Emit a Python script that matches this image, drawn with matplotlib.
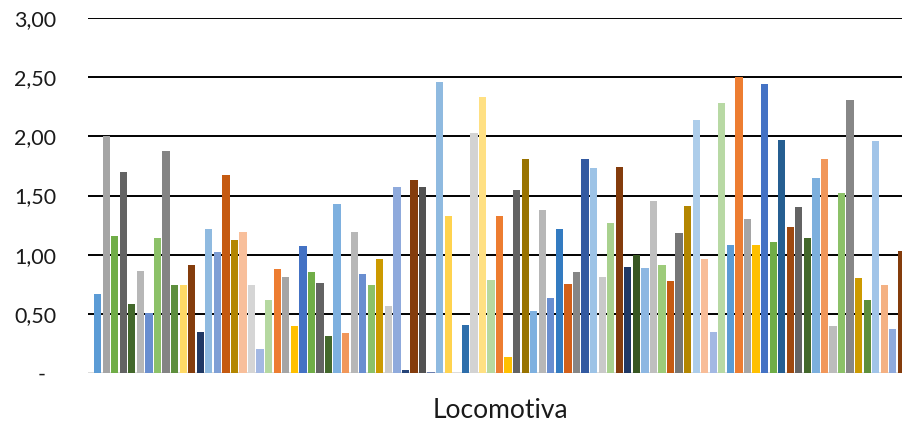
import matplotlib
matplotlib.use("Agg")
import matplotlib.pyplot as plt
import matplotlib.transforms as mtransforms

category = "Locomotiva"

values = [
    0.67, 2.00, 1.16, 1.70, 0.585, 0.865, 0.51, 1.14, 1.88, 0.745,
    0.74, 0.91, 0.35, 1.22, 1.02, 1.67, 1.12, 1.19, 0.74, 0.20,
    0.62, 0.88, 0.81, 0.40, 1.07, 0.85, 0.76, 0.31, 1.43, 0.34,
    1.195, 0.84, 0.745, 0.965, 0.57, 1.575, 0.025, 1.63, 1.57, 0.01,
    2.46, 1.33, 0.0, 0.405, 2.025, 2.33, 0.79, 1.33, 0.135, 1.55,
    1.81, 0.52, 1.38, 0.635, 1.22, 0.755, 0.85, 1.805, 1.73, 0.81,
    1.27, 1.74, 0.90, 1.00, 0.89, 1.45, 0.915, 0.78, 1.18, 1.415,
    2.135, 0.96, 0.35, 2.28, 1.085, 2.50, 1.305, 1.085, 2.44, 1.11,
    1.965, 1.23, 1.405, 1.14, 1.645, 1.81, 0.40, 1.525, 2.31, 0.805,
    0.62, 1.96, 0.745, 0.37, 1.035,
]

colors = [
    "#5B9BD5", "#A5A5A5", "#70AD47", "#636363", "#43682B", "#B7B7B7", "#698ED0", "#8CC168", "#848484", "#5E8F3D",
    "#FFD966", "#843C0C", "#203864", "#8FBAE0", "#7F9FD5", "#C55A11", "#B38600", "#F8BF9B", "#D5D5D5", "#A3B8E3",
    "#B5D8A0", "#ED7D31", "#A5A5A5", "#FFC000", "#4472C4", "#70AD47", "#636363", "#43682B", "#7EB0DF", "#F1975A",
    "#B7B7B7", "#698ED0", "#8CC168", "#CC9A00", "#C9C9C9", "#8FAADC", "#264478", "#843C0C", "#525252", "#6C7FAE",
    "#8FBAE0", "#FFD34F", "#FFFFFF", "#2E6EAB", "#D3D3D3", "#FFE083", "#B8D8A0", "#ED7D31", "#FFC000", "#636363",
    "#997300", "#7EB0DF", "#B7B7B7", "#698ED0", "#337BC1", "#D2601A", "#868686", "#335AA1", "#9DC3E6", "#C9C9C9",
    "#A9D18E", "#843C0C", "#203864", "#385723", "#8DB7E2", "#BFBFBF", "#9DCB7A", "#C55A11", "#767676", "#B38600",
    "#ADCDEA", "#F8BD98", "#A3B8E3", "#B8D9A4", "#5B9BD5", "#ED7D31", "#A5A5A5", "#FFC000", "#4472C4", "#70AD47",
    "#255E91", "#9E480E", "#636363", "#43682B", "#7CAFDD", "#F1975A", "#BCBCBC", "#8CC168", "#878787", "#CC9A00",
    "#5E8F3D", "#A1C4E8", "#F4B183", "#8FAADC", "#843C0C",
]

y_ticks = [0.0, 0.5, 1.0, 1.5, 2.0, 2.5, 3.0]
y_tick_labels = ["-", "0,50", "1,00", "1,50", "2,00", "2,50", "3,00"]

W, H = 902, 428
fig = plt.figure(figsize=(W / 100, H / 100), dpi=100)
ax = fig.add_axes([88 / W, (H - 373) / H, 1 - 88 / W, 355 / H])

x = list(range(len(values)))
ax.bar(x, values, width=0.85, color=colors, zorder=3)

ax.set_xlim(-1.13, 94.07)
ax.set_ylim(0, 3.0)

for yv in y_ticks[1:]:
    ax.axhline(yv, color="black", lw=1.4, zorder=1)
ax.axhline(0, color="#D9D9D9", lw=2.0, zorder=2)

for s in ax.spines.values():
    s.set_visible(False)
ax.set_xticks([])
ax.set_yticks(y_ticks)
ax.set_yticklabels(y_tick_labels, fontname="Lato", fontsize=15.5, color="#1a1a1a")
ax.tick_params(axis="y", length=0, pad=23)

# the dash for zero sits a little left of the number column
zero_label = ax.get_yticklabels()[0]
zero_label.set_transform(zero_label.get_transform() +
                         mtransforms.ScaledTranslation(-10 / 100, 0, fig.dpi_scale_trans))

fig.text(500 / W, (H - 410) / H, category, ha="center", va="center",
         fontname="Lato", fontsize=19, color="#1a1a1a")

fig.savefig("out.png", dpi=100)
